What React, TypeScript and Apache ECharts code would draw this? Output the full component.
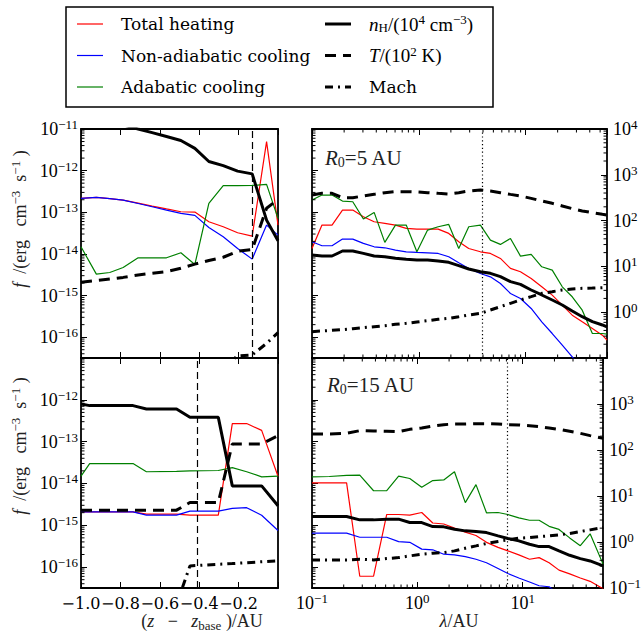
import React, { useEffect, useRef } from 'react';
import * as echarts from 'echarts';

const SERIF = '"DejaVu Serif", serif';
const MATH = '"Liberation Serif", "DejaVu Serif", serif';

// ---------- left column: x = (z - z_base)/AU ; f values stored as log10(f) ----------
const zTop = [-1.0, -0.922, -0.854, -0.786, -0.71, -0.639, -0.566, -0.493, -0.422, -0.351, -0.278, -0.205, -0.131, -0.058, 0.0];
const heatTL = [-12.667, -12.643, -12.67, -12.707, -12.78, -12.851, -12.92, -12.987, -12.995, -13.228, -13.348, -13.492, -13.572, -11.304, -13.31];
const coolTL = [-12.667, -12.643, -12.67, -12.707, -12.79, -12.867, -12.95, -13.027, -13.075, -13.364, -13.588, -13.869, -14.125, -13.308, -13.548];
const adiaTL = [-13.829, -14.486, -14.446, -14.325, -14.093, -14.093, -14.093, -13.973, -14.253, -12.787, -12.362, -12.362, -12.355, -12.33, -13.147];
// right-hand quantities stored as log10
const nHTL = [4.34, 4.25, 4.17, 4.09, 4.0, 3.92, 3.836, 3.75, 3.578, 3.29, 3.2, 3.08, 3.02, 2.01, 1.56];
const TTL = [0.652, 0.69, 0.725, 0.76, 0.812, 0.85, 0.885, 0.958, 1.05, 1.13, 1.2, 1.33, 1.37, 2.27, 2.46];
const machTL = [-1.8, -1.8, -1.8, -1.8, -1.8, -1.8, -1.8, -1.8, -1.8, -1.8, -1.2, -0.956, -0.934, -0.68, -0.447];

const zBot = [-1.0, -0.956, -0.736, -0.668, -0.515, -0.447, -0.303, -0.232, -0.159, -0.083, 0.0];
const heatBL = [-14.678, -14.678, -14.678, -14.734, -14.734, -14.759, -14.759, -12.568, -12.568, -12.73, -13.826];
const coolBL = [-14.678, -14.678, -14.678, -14.759, -14.759, -14.661, -14.661, -14.596, -14.58, -14.759, -15.124];
const adiaBL = [-13.826, -13.525, -13.525, -13.72, -13.71, -13.7, -13.69, -13.623, -13.72, -13.842, -13.826];
const nHBL = [3.0, 2.965, 2.965, 2.89, 2.89, 2.71, 2.71, 1.22, 1.22, 1.22, 0.787];
const TBL = [0.692, 0.692, 0.692, 0.692, 0.692, 0.859, 0.859, 2.13, 2.13, 2.13, 2.31];
const machBL = [-1.8, -1.8, -1.8, -1.8, -1.36, -0.52, -0.485, -0.47, -0.45, -0.43, -0.41];

// ---------- right column: x = lambda/AU ----------
const lamTop = [0.1, 0.124, 0.154, 0.193, 0.241, 0.303, 0.382, 0.481, 0.605, 0.763, 0.961, 1.21, 1.52, 1.91, 2.37, 2.94, 3.78, 4.69, 5.82, 7.23, 8.97, 11.3, 14.2, 17.8, 22.1, 27.4, 34.0, 42.3, 52.5, 58];
const heatTR = [-13.869, -13.308, -13.308, -12.947, -12.947, -13.107, -13.228, -13.268, -13.308, -13.388, -13.404, -13.404, -13.404, -13.508, -13.708, -13.869, -13.949, -13.989, -14.109, -14.349, -14.429, -14.59, -14.79, -14.99, -15.231, -15.471, -15.631, -15.792, -15.952, -16.072];
const coolTR = [-13.708, -13.804, -13.804, -13.644, -13.644, -13.748, -13.829, -13.853, -13.909, -13.949, -13.965, -13.973, -13.989, -14.069, -14.213, -14.349, -14.47, -14.55, -14.71, -14.95, -15.071, -15.311, -15.631, -15.912, -16.192, -16.473, -16.753, -17.03, -17.31, -17.6];
const adiaTR = [-12.707, -12.587, -12.587, -12.731, -12.747, -13.163, -13.003, -13.724, -13.308, -13.308, -13.949, -13.428, -13.348, -13.292, -13.869, -13.348, -13.308, -13.668, -13.772, -13.628, -14.053, -14.013, -14.309, -14.389, -14.79, -15.03, -15.351, -15.912, -15.912, -15.928];
const nHTR = [1.249, 1.227, 1.227, 1.336, 1.336, 1.285, 1.227, 1.213, 1.176, 1.154, 1.14, 1.14, 1.118, 1.089, 1.016, 0.943, 0.885, 0.849, 0.776, 0.667, 0.608, 0.485, 0.376, 0.266, 0.157, 0.026, -0.098, -0.207, -0.279, -0.323];
const TTR = [2.559, 2.595, 2.595, 2.5, 2.5, 2.537, 2.573, 2.61, 2.632, 2.632, 2.624, 2.61, 2.595, 2.581, 2.61, 2.646, 2.668, 2.646, 2.61, 2.573, 2.537, 2.486, 2.428, 2.377, 2.319, 2.261, 2.21, 2.173, 2.137, 2.122];
const machTR = [-0.425, -0.41, -0.396, -0.381, -0.36, -0.338, -0.316, -0.294, -0.265, -0.243, -0.214, -0.185, -0.156, -0.134, -0.098, -0.061, -0.025, 0.048, 0.121, 0.194, 0.266, 0.339, 0.412, 0.448, 0.485, 0.507, 0.521, 0.528, 0.536, 0.543];

const lamBot = [0.1, 0.146, 0.213, 0.284, 0.384, 0.512, 0.664, 0.847, 1.1, 1.4, 1.78, 2.25, 2.85, 3.6, 4.53, 5.83, 7.23, 9.18, 11.6, 14.3, 17.8, 22.1, 27.9, 35.2, 43.6, 58];
const heatBR = [-13.988, -13.988, -13.988, -16.219, -16.219, -14.742, -14.742, -14.759, -14.694, -14.945, -14.97, -15.067, -15.164, -15.245, -15.408, -15.529, -15.611, -15.708, -15.813, -15.773, -15.895, -16.073, -16.162, -16.26, -16.341, -16.519];
const coolBR = [-15.189, -15.189, -15.189, -15.286, -15.286, -15.286, -15.391, -15.408, -15.57, -15.586, -15.692, -15.708, -15.749, -15.813, -15.895, -16.032, -16.154, -16.26, -16.357, -16.446, -16.47, -16.649, -16.787, -16.95, -17.11, -17.31];
const adiaBR = [-13.842, -13.834, -13.809, -13.8, -14.174, -14.174, -13.826, -13.882, -14.093, -13.931, -13.915, -13.72, -14.458, -14.028, -14.702, -14.694, -14.742, -14.823, -14.88, -14.88, -15.026, -15.099, -15.302, -15.489, -15.205, -15.935];
const nHBR = [0.554, 0.554, 0.554, 0.481, 0.481, 0.496, 0.496, 0.423, 0.423, 0.336, 0.329, 0.278, 0.242, 0.227, 0.205, 0.133, 0.075, 0.024, -0.049, -0.1, -0.1, -0.194, -0.289, -0.361, -0.412, -0.521];
const TBR = [2.348, 2.348, 2.362, 2.42, 2.413, 2.406, 2.399, 2.449, 2.479, 2.522, 2.551, 2.566, 2.566, 2.573, 2.573, 2.566, 2.551, 2.544, 2.529, 2.508, 2.479, 2.449, 2.406, 2.362, 2.312, 2.253];
const machBR = [-0.39, -0.39, -0.39, -0.375, -0.39, -0.36, -0.339, -0.302, -0.266, -0.244, -0.23, -0.193, -0.135, -0.084, -0.033, 0.011, 0.046, 0.083, 0.097, 0.119, 0.133, 0.155, 0.184, 0.227, 0.264, 0.314];

const vlines = [-0.125, -0.413, 3.92, 7.13];

const F_MIN = Math.pow(10, -16.5), F_MAX = 1e-11;
const Q_MIN = 0.1, Q_MAX = 1e4;
const L_MIN = 0.1, L_MAX = 58;

const RICH = {
  b: { fontFamily: MATH, fontSize: 18, color: '#000', lineHeight: 20 },
  s: { fontFamily: MATH, fontSize: 13, color: '#000', padding: [0, 0, 9, 0], lineHeight: 11 },
};

const logFmt = (hide: number[]) => (v: number) => {
  const e = Math.log10(v);
  const r = Math.round(e);
  if (Math.abs(e - r) > 1e-6 || hide.includes(r)) return '';
  return `{b|10}{s|${r < 0 ? '\u2212' + -r : String(r)}}`;
};
const linFmt = (v: number) => {
  if (Math.abs(v) < 1e-9) return '';
  return (v < 0 ? '\u2212' : '') + Math.abs(v).toFixed(1);
};

const axisLine = { show: true, onZero: false, lineStyle: { color: '#000', width: 1.8 } };
const majorTick = { show: true, inside: true, length: 6, lineStyle: { color: '#000', width: 1 } };

const xLin = (grid: number, position: string, show: boolean) => ({
  type: 'value', gridIndex: grid, position, min: -1, max: 0, interval: 0.2,
  axisLine, axisTick: majorTick, splitLine: { show: false },
  axisLabel: { show, formatter: linFmt, fontFamily: SERIF, fontSize: 16, color: '#000', margin: 7 },
});
const xLog = (grid: number, position: string, show: boolean) => ({
  type: 'log', logBase: 10, gridIndex: grid, position, min: L_MIN, max: L_MAX,
  axisLine, axisTick: majorTick, splitLine: { show: false }, minorTick: { show: false },
  axisLabel: { show, formatter: logFmt([]), rich: RICH, margin: 5 },
});
const yF = (grid: number, show: boolean, hide: number[]) => ({
  type: 'log', logBase: 10, gridIndex: grid, position: 'left', min: F_MIN, max: F_MAX,
  axisLine, axisTick: majorTick, splitLine: { show: false }, minorTick: { show: false },
  axisLabel: { show, formatter: logFmt(hide), rich: RICH, margin: 3 },
});
const yQ = (grid: number, show: boolean, hide: number[], ticks: boolean) => ({
  type: 'log', logBase: 10, gridIndex: grid, position: 'right', min: Q_MIN, max: Q_MAX,
  axisLine, axisTick: ticks ? majorTick : { show: false }, splitLine: { show: false }, minorTick: { show: false },
  axisLabel: { show, formatter: logFmt(hide), rich: RICH, margin: 6 },
});

const minorVals = (lo: number, hi: number) => {
  const out: number[] = [];
  for (let d = Math.floor(Math.log10(lo)); d <= Math.ceil(Math.log10(hi)); d++) {
    for (let k = 2; k <= 9; k++) {
      const v = k * Math.pow(10, d);
      if (v > lo * 1.0001 && v < hi * 0.9999) out.push(v);
    }
  }
  return out;
};

const tickSeries = (xi: number, yi: number, pts: number[][], dir: string, sides: string[]) => ({
  type: 'custom', xAxisIndex: xi, yAxisIndex: yi, silent: true, z: 10,
  data: pts,
  renderItem: (params: any, api: any) => {
    const cs = params.coordSys;
    const p = api.coord([api.value(0), api.value(1)]);
    const len = 3.5;
    const st = { stroke: '#000', lineWidth: 1 };
    const ch: any[] = [];
    if (dir === 'y') {
      if (sides.includes('left')) ch.push({ type: 'line', shape: { x1: cs.x, y1: p[1], x2: cs.x + len, y2: p[1] }, style: st });
      if (sides.includes('right')) ch.push({ type: 'line', shape: { x1: cs.x + cs.width, y1: p[1], x2: cs.x + cs.width - len, y2: p[1] }, style: st });
    } else {
      if (sides.includes('bottom')) ch.push({ type: 'line', shape: { x1: p[0], y1: cs.y + cs.height, x2: p[0], y2: cs.y + cs.height - len }, style: st });
      if (sides.includes('top')) ch.push({ type: 'line', shape: { x1: p[0], y1: cs.y, x2: p[0], y2: cs.y + len }, style: st });
    }
    return { type: 'group', children: ch };
  },
});

const sHeat = { color: '#ff0000', width: 1.2 };
const sCool = { color: '#0000ff', width: 1.2 };
const sAdia = { color: '#008000', width: 1.2 };
const sNH = { color: '#000', width: 3 };
const sT = { color: '#000', width: 3, type: [11, 7], cap: 'butt' };
const sMach = { color: '#000', width: 3, type: [8, 5, 2, 5], cap: 'butt' };

const mk = (name: string, xs: number[], logs: number[], xi: number, yi: number, style: any, extra: any = {}) => ({
  type: 'line', name, xAxisIndex: xi, yAxisIndex: yi,
  data: xs.map((x, i) => [x, Math.pow(10, logs[i])]),
  symbol: 'none', showSymbol: false, clip: true, silent: true,
  emphasis: { disabled: true },
  lineStyle: style, itemStyle: { color: style.color },
  ...extra,
});

const panels = [
  { xb: 0, yf: 0, yq: 1, x: zTop, heat: heatTL, cool: coolTL, adia: adiaTL, nH: nHTL, T: TTL, mach: machTL, v: vlines[0], vt: [7, 4], xRef: -0.5, log: false },
  { xb: 1, yf: 2, yq: 3, x: zBot, heat: heatBL, cool: coolBL, adia: adiaBL, nH: nHBL, T: TBL, mach: machBL, v: vlines[1], vt: [7, 4], xRef: -0.5, log: false },
  { xb: 2, yf: 4, yq: 5, x: lamTop, heat: heatTR, cool: coolTR, adia: adiaTR, nH: nHTR, T: TTR, mach: machTR, v: vlines[2], vt: [1.2, 2.6], xRef: 1, log: true },
  { xb: 3, yf: 6, yq: 7, x: lamBot, heat: heatBR, cool: coolBR, adia: adiaBR, nH: nHBR, T: TBR, mach: machBR, v: vlines[3], vt: [1.2, 2.6], xRef: 1, log: true },
];

const NAMES = { heat: 'Total heating', cool: 'Non-adiabatic cooling', adia: 'Adabatic cooling', nH: 'nH', T: 'T', mach: 'Mach' };

const series: any[] = [];
const fMinor = minorVals(F_MIN, F_MAX);
const qMinor = minorVals(Q_MIN, Q_MAX);
const lMinor = minorVals(L_MIN, L_MAX);
panels.forEach((p) => {
  series.push(mk(NAMES.heat, p.x, p.heat, p.xb, p.yf, sHeat));
  series.push(mk(NAMES.cool, p.x, p.cool, p.xb, p.yf, sCool));
  series.push(mk(NAMES.adia, p.x, p.adia, p.xb, p.yf, sAdia));
  series.push(mk(NAMES.nH, p.x, p.nH, p.xb, p.yq, sNH));
  series.push(mk(NAMES.T, p.x, p.T, p.xb, p.yq, sT, {
    markLine: {
      silent: true, symbol: ['none', 'none'], label: { show: false }, animation: false,
      lineStyle: { color: '#000', width: 1.2, type: p.vt, cap: 'butt' },
      emphasis: { disabled: true },
      data: [{ xAxis: p.v }],
    },
  }));
  series.push(mk(NAMES.mach, p.x, p.mach, p.xb, p.yq, sMach));
  series.push(tickSeries(p.xb, p.yf, fMinor.map((v) => [p.xRef, v]), 'y', ['left']));
  if (p.log) {
    series.push(tickSeries(p.xb, p.yq, qMinor.map((v) => [1, v]), 'y', ['right']));
    series.push(tickSeries(p.xb, p.yf, lMinor.map((v) => [v, 1e-13]), 'x', ['top', 'bottom']));
  }
});

// ---------- legend (drawn as graphic elements so that dash patterns show) ----------
const LEG_RICH = {
  m: { fontFamily: SERIF, fontSize: 17, fill: '#000', lineHeight: 20 },
  i: { fontFamily: MATH, fontStyle: 'italic', fontSize: 19, fill: '#000', lineHeight: 20 },
  r: { fontFamily: MATH, fontSize: 19, fill: '#000', lineHeight: 20 },
  sub: { fontFamily: MATH, fontSize: 13, fill: '#000', padding: [7, 0, 0, 0], lineHeight: 13 },
  sup: { fontFamily: MATH, fontSize: 13, fill: '#000', padding: [0, 0, 9, 0], lineHeight: 11 },
};
const legendItems = [
  { col: 0, row: 0, style: sHeat, text: '{m|' + NAMES.heat + '}' },
  { col: 0, row: 1, style: sCool, text: '{m|' + NAMES.cool + '}' },
  { col: 0, row: 2, style: sAdia, text: '{m|' + NAMES.adia + '}' },
  { col: 1, row: 0, style: sNH, text: '{i|n}{sub|H}{r|/(10}{sup|4}{r| cm}{sup|\u22123}{r|)}' },
  { col: 1, row: 1, style: sT, text: '{i|T}{r|/(10}{sup|2}{r| K)}' },
  { col: 1, row: 2, style: sMach, text: '{m|Mach}' },
];
const LEG_COL_X = [77, 325];
const LEG_ROW_Y = [24, 55.5, 87];
const legendGraphics: any[] = [];
legendItems.forEach((it) => {
  const x0 = LEG_COL_X[it.col];
  const y = LEG_ROW_Y[it.row];
  const s: any = it.style;
  legendGraphics.push({
    type: 'line', silent: true,
    shape: { x1: x0, y1: y, x2: x0 + 26, y2: y },
    style: { stroke: s.color, lineWidth: s.width, lineDash: Array.isArray(s.type) ? s.type : null, lineCap: 'butt' },
  });
  legendGraphics.push({
    type: 'text', silent: true, x: x0 + 44, y,
    style: { text: it.text, rich: LEG_RICH, align: 'left', verticalAlign: 'middle' },
  });
});

const TXT = '#222';
const TITLE_RICH = {
  i: { fontFamily: MATH, fontStyle: 'italic', fontSize: 18, fill: TXT, lineHeight: 22 },
  r: { fontFamily: MATH, fontSize: 18, fill: TXT, lineHeight: 22 },
  p: { fontFamily: MATH, fontSize: 13, fill: TXT, padding: [0, 0, 9, 0], lineHeight: 13 },
  sub: { fontFamily: MATH, fontSize: 13, fill: TXT, padding: [8, 0, 0, 0], lineHeight: 13 },
};
const ANN_RICH = {
  i: { fontFamily: MATH, fontStyle: 'italic', fontSize: 21, fill: TXT, lineHeight: 24 },
  r: { fontFamily: MATH, fontSize: 21, fill: TXT, lineHeight: 24 },
  sub: { fontFamily: MATH, fontSize: 14, fill: TXT, padding: [9, 0, 0, 0], lineHeight: 14 },
};
const yTitle = '{i|f}{r|  /(erg   cm}{p|\u22123}{r|  s}{p|\u22121}{r| )}';

const option: any = {
  animation: false,
  backgroundColor: '#fff',
  grid: [
    { left: 81, top: 129, width: 197, height: 229 },
    { left: 81, top: 358, width: 197, height: 230 },
    { left: 312, top: 129, width: 295, height: 229 },
    { left: 312, top: 358, width: 295, height: 230 },
  ],
  xAxis: [
    xLin(0, 'bottom', false), xLin(1, 'bottom', true), xLog(2, 'bottom', false), xLog(3, 'bottom', true),
    xLin(0, 'top', false), xLin(1, 'top', false), xLog(2, 'top', false), xLog(3, 'top', false),
  ],
  yAxis: [
    yF(0, true, []), yQ(0, false, [], false),
    yF(1, true, [-11]), yQ(1, false, [], false),
    yF(2, false, []), yQ(2, true, [-1], true),
    yF(3, false, []), yQ(3, true, [4], true),
  ],
  graphic: [
    { type: 'rect', shape: { x: 66, y: 7, width: 427, height: 100 }, style: { fill: 'none', stroke: '#000', lineWidth: 1.5 }, silent: true },
    ...legendGraphics,
    { type: 'text', x: 20, y: 219, rotation: Math.PI / 2, style: { text: yTitle, rich: TITLE_RICH, align: 'center', verticalAlign: 'middle' }, silent: true },
    { type: 'text', x: 20, y: 446, rotation: Math.PI / 2, style: { text: yTitle, rich: TITLE_RICH, align: 'center', verticalAlign: 'middle' }, silent: true },
    { type: 'text', x: 202, y: 621, style: { text: '{r|(}{i|z}{r|   \u2212   }{i|z}{sub|base}{r| )/AU}', rich: TITLE_RICH, align: 'center', verticalAlign: 'middle' }, silent: true },
    { type: 'text', x: 459, y: 621, style: { text: '{i|\u03bb}{r|/AU}', rich: TITLE_RICH, align: 'center', verticalAlign: 'middle' }, silent: true },
    { type: 'text', x: 325, y: 158, style: { text: '{i|R}{sub|0}{r|=5 AU}', rich: ANN_RICH, align: 'left', verticalAlign: 'middle' }, silent: true },
    { type: 'text', x: 327, y: 385, style: { text: '{i|R}{sub|0}{r|=15 AU}', rich: ANN_RICH, align: 'left', verticalAlign: 'middle' }, silent: true },
  ],
  series,
};

export default function App() {
  const ref = useRef<HTMLDivElement>(null);
  useEffect(() => {
    const chart = echarts.init(ref.current as HTMLDivElement, undefined, { renderer: 'svg' });
    chart.setOption(option);
    return () => chart.dispose();
  }, []);
  return <div ref={ref} style={{ position: 'absolute', left: 0, top: 0, width: 644, height: 633, background: '#fff' }} />;
}
